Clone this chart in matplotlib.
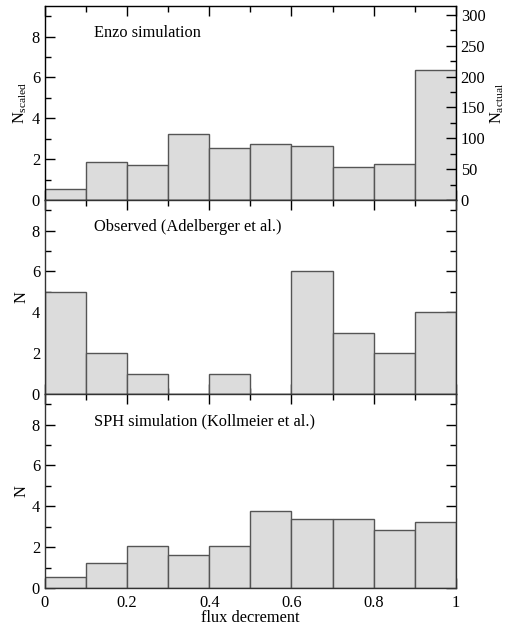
import numpy as np
import matplotlib
matplotlib.use("Agg")
import matplotlib.pyplot as plt
from matplotlib.ticker import MultipleLocator, FormatStrFormatter

plt.rcParams['font.family'] = ['Liberation Serif', 'DejaVu Serif']
plt.rcParams['mathtext.fontset'] = 'custom'
plt.rcParams['mathtext.rm'] = 'Liberation Serif'
plt.rcParams['font.size'] = 11.8

# bordas dos bins e contagens
bin_edges = np.arange(0, 1.01, 0.1)
enzo_scaled = [0.55, 1.88, 1.72, 3.25, 2.55, 2.75, 2.65, 1.60, 1.75, 6.35]
observed = [5, 2, 1, 0, 1, 0, 6, 3, 2, 4]
sph = [0.55, 1.20, 2.05, 1.62, 2.05, 3.78, 3.38, 3.38, 2.85, 3.25]
titles = ["Enzo simulation", "Observed (Adelberger et al.)",
          "SPH simulation (Kollmeier et al.)"]
ylabels = [r"N$_{\mathrm{scaled}}$", "N", "N"]
actual_per_scaled = 300 / 9.07  # escala do eixo direito

fig = plt.figure(figsize=(5.11, 6.28), dpi=100)
left, width = 0.088, 0.804
bottoms = [0.6815, 0.3726, 0.0637]
height = 0.309

for i, (vals, title, ylab) in enumerate(zip([enzo_scaled, observed, sph], titles, ylabels)):
    ax = fig.add_axes([left, bottoms[i], width, height])
    ax.bar(bin_edges[:-1], vals, width=0.1, align='edge',
           color='#dcdcdc', edgecolor='#555555', linewidth=1.0, zorder=2)
    ax.set_xlim(0, 1)
    ax.set_ylim(0, 9.5)
    ax.yaxis.set_major_locator(MultipleLocator(2))
    ax.yaxis.set_minor_locator(MultipleLocator(1))
    ax.xaxis.set_major_locator(MultipleLocator(0.2))
    ax.xaxis.set_minor_locator(MultipleLocator(0.1))
    ax.xaxis.set_major_formatter(FormatStrFormatter('%g'))
    ax.tick_params(which='both', direction='in', top=True, right=(i > 0), width=1.0)
    ax.tick_params(which='major', length=7)
    ax.tick_params(which='minor', length=4)
    ax.set_ylabel(ylab, labelpad=2)
    ax.text(0.12, 0.86, title, transform=ax.transAxes, va='center', ha='left')
    for s in ax.spines.values():
        s.set_linewidth(1.0)
        s.set_color('#333333')
    if i < 2:
        ax.tick_params(axis='x', labelbottom=False)
    else:
        ax.set_xlabel("flux decrement", labelpad=-1)
        ax.tick_params(axis='x', pad=5)
    if i == 0:
        ax2 = ax.twinx()
        ax2.set_ylim(0, 9.5 * actual_per_scaled)
        ax2.yaxis.set_major_locator(MultipleLocator(50))
        ax2.yaxis.set_minor_locator(MultipleLocator(25))
        ax2.tick_params(which='both', direction='in', width=1.0)
        ax2.tick_params(which='major', length=7)
        ax2.tick_params(which='minor', length=4)
        ax2.set_ylabel(r"N$_{\mathrm{actual}}$", labelpad=2)

fig.savefig("out.png", dpi=100)
